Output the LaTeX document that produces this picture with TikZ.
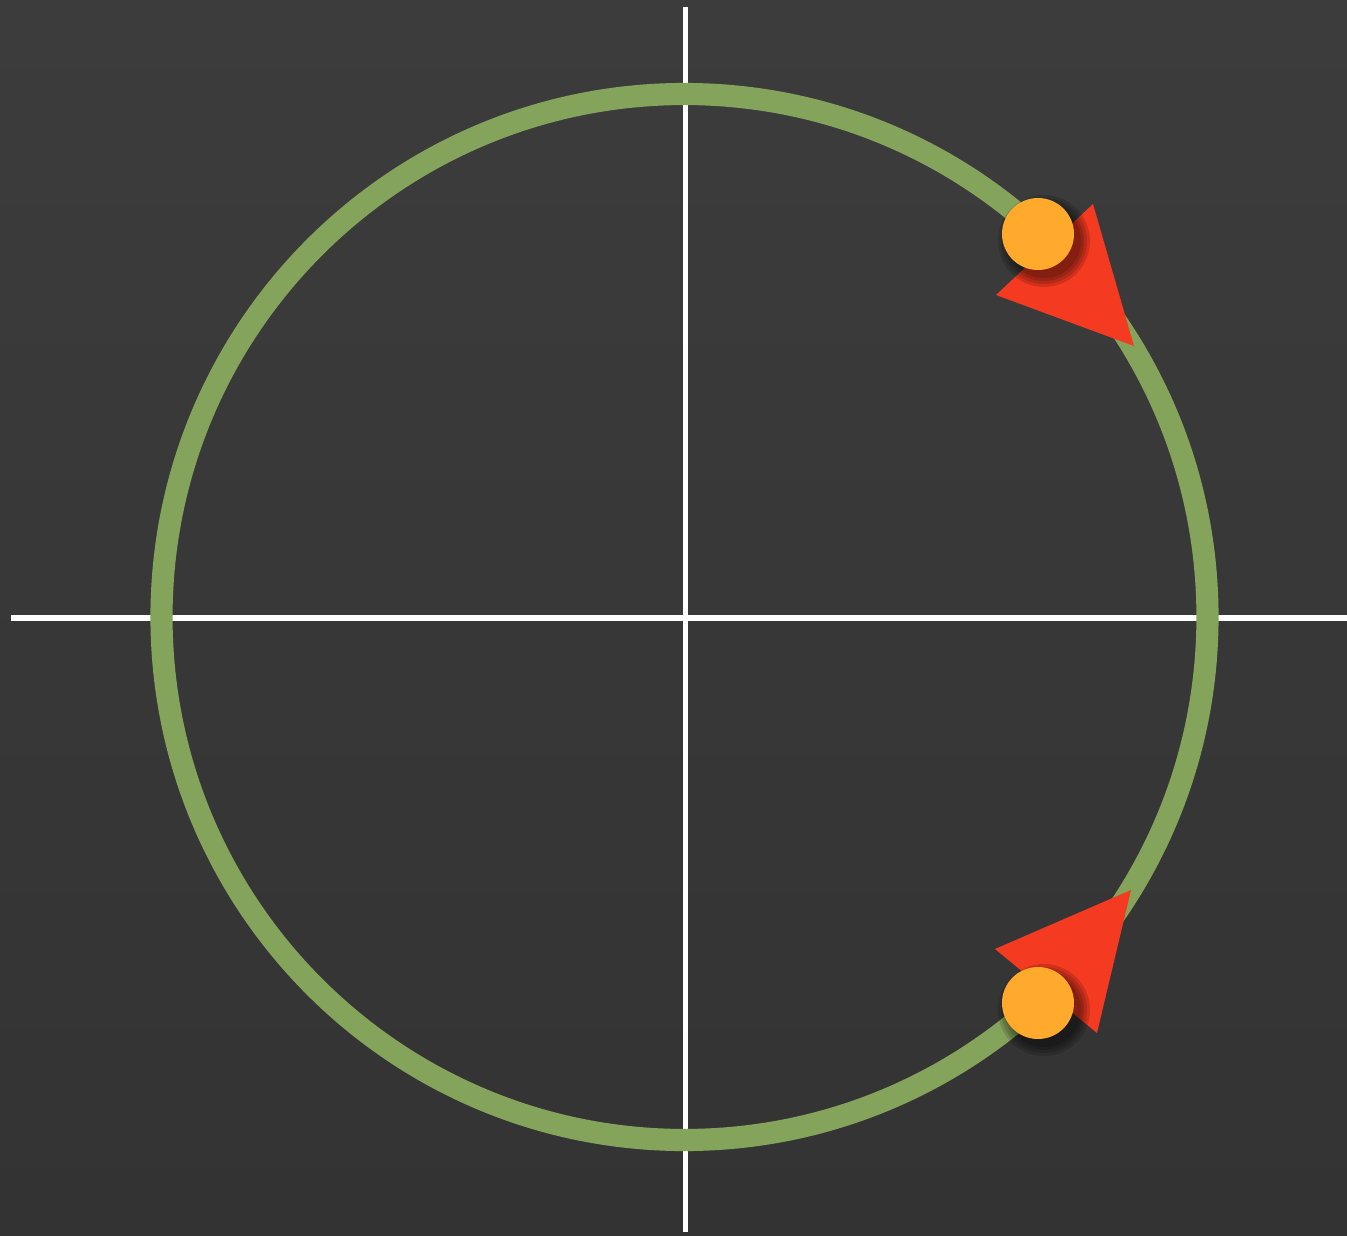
\documentclass[tikz,border=0pt]{standalone}
\usepackage{tikz}
\usetikzlibrary{calc}

\definecolor{board}{HTML}{3C3C3C}
\definecolor{boarddark}{HTML}{333333}
\definecolor{ringgreen}{HTML}{84A45B}
\definecolor{dotorange}{HTML}{FFAA2D}
\definecolor{arrowred}{HTML}{F43A21}

\tikzset{
    axis/.style={white, line width=1.45pt},
    ring/.style={ringgreen, line width=6.3pt},
    tip/.style={fill=arrowred, draw=none},
    dot/.style={fill=dotorange, draw=none},
    shade/.style={fill=black, opacity=0.14, draw=none}
}

\begin{document}
\begin{tikzpicture}[x=0.01cm, y=-0.01cm]
    \fill[top color=board, bottom color=boarddark] (0,0) rectangle (1347,1236);
    \useasboundingbox (0,0) rectangle (1347,1236);

    \coordinate (O) at (684.5,617);
    \coordinate (L) at (11,618);
    \coordinate (R) at (1347,618);
    \coordinate (T) at (685.5,7);
    \coordinate (B) at (685.5,1232);

    \draw[axis] (L) -- (R);
    \draw[axis] (T) -- (B);
    \draw[ring] (O) circle (523);

    % arrow tips on the circle
    \coordinate (A1) at (1093,204);
    \coordinate (A2) at (996,295);
    \coordinate (A3) at (1134,346);
    \coordinate (C1) at (1131,890);
    \coordinate (C2) at (995,949);
    \coordinate (C3) at (1097,1033);
    \fill[tip] (A1) -- (A2) -- (A3) -- cycle;
    \fill[tip] (C1) -- (C2) -- (C3) -- cycle;

    % the two points, with a soft shadow
    \coordinate (P) at (1038,234);
    \coordinate (Q) at (1038,1003);
    \foreach \p in {P,Q} {
        \foreach \r in {46,43,40,37} \fill[shade] ($(\p)+(6,7)$) circle (\r);
        \fill[dot] (\p) circle (36);
    }
\end{tikzpicture}
\end{document}
